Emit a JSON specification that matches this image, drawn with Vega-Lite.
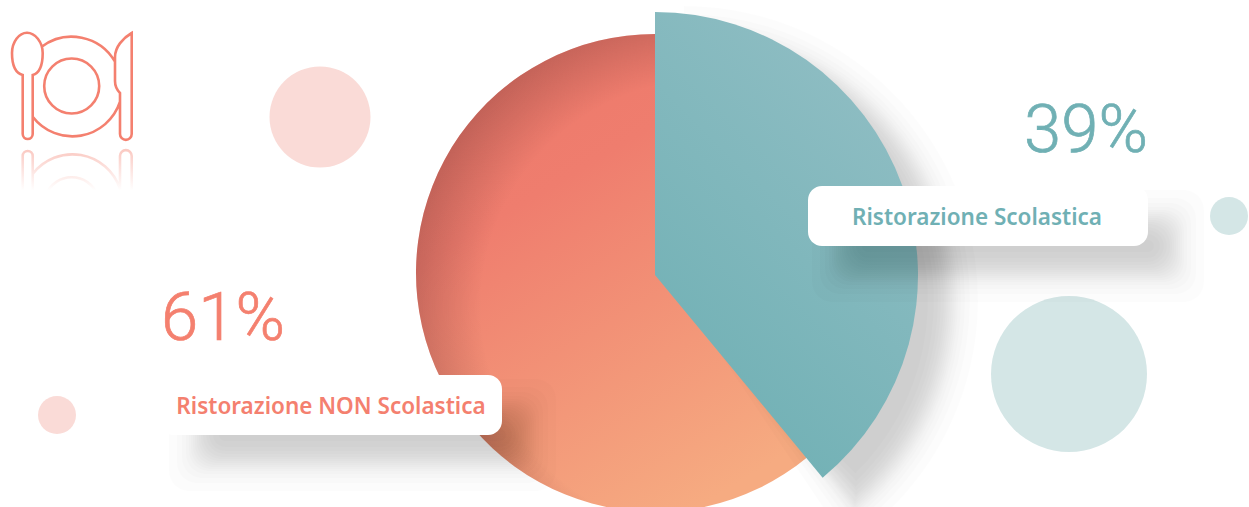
{
"$schema":"https://vega.github.io/schema/vega-lite/v6.json",
"width":1249,"height":507,"padding":0,"autosize":"none","background":"#ffffff",
"config":{"view":{"stroke":null}},
"datasets":{
"shares":[{"name":"Ristorazione Scolastica","share":39,"x":655,"y":275,"r":263},{"name":"Ristorazione NON Scolastica","share":61,"x":655,"y":273,"r":239}],
"bubbles":[{"x":320,"y":117,"d":101,"c":"red"},{"x":57,"y":415,"d":38,"c":"red"},{"x":1229,"y":216,"d":38,"c":"teal"},{"x":1069,"y":374,"d":156,"c":"teal"}],
"pieShadow":[{"x":684,"y":300,"r":244,"s0":0,"s1":37.6},{"x":684,"y":300,"r":250,"s0":0,"s1":37.9},{"x":684,"y":300,"r":254,"s0":0,"s1":38.2},{"x":684,"y":300,"r":257,"s0":0,"s1":38.3},{"x":684,"y":300,"r":260,"s0":0,"s1":38.5},{"x":684,"y":300,"r":262,"s0":0,"s1":38.6},{"x":684,"y":300,"r":264,"s0":0,"s1":38.8},{"x":684,"y":300,"r":266,"s0":0,"s1":38.9},{"x":684,"y":300,"r":268,"s0":0,"s1":39},{"x":684,"y":300,"r":270,"s0":0,"s1":39.1},{"x":684,"y":300,"r":272,"s0":0,"s1":39.2},{"x":684,"y":300,"r":274,"s0":0,"s1":39.4},{"x":684,"y":300,"r":277,"s0":0,"s1":39.5},{"x":684,"y":300,"r":281,"s0":0,"s1":39.8},{"x":684,"y":300,"r":286,"s0":0,"s1":40.1},{"x":684,"y":300,"r":294,"s0":0,"s1":40.6}],
"labelShadow":[
{"x":862,"x2":1154,"y":240,"y2":252},{"x":856,"x2":1160,"y":234,"y2":258},{"x":852,"x2":1164,"y":230,"y2":262},{"x":849,"x2":1167,"y":227,"y2":265},{"x":846,"x2":1170,"y":224,"y2":268},{"x":844,"x2":1172,"y":222,"y2":270},{"x":842,"x2":1174,"y":220,"y2":272},{"x":840,"x2":1176,"y":218,"y2":274},{"x":838,"x2":1178,"y":216,"y2":276},{"x":836,"x2":1180,"y":214,"y2":278},{"x":834,"x2":1182,"y":212,"y2":280},{"x":832,"x2":1184,"y":210,"y2":282},{"x":829,"x2":1187,"y":207,"y2":285},{"x":825,"x2":1191,"y":203,"y2":289},{"x":820,"x2":1196,"y":198,"y2":294},{"x":812,"x2":1204,"y":190,"y2":302},
{"x":219,"x2":506,"y":429,"y2":441},{"x":213,"x2":512,"y":423,"y2":447},{"x":209,"x2":516,"y":419,"y2":451},{"x":206,"x2":519,"y":416,"y2":454},{"x":203,"x2":522,"y":413,"y2":457},{"x":201,"x2":524,"y":411,"y2":459},{"x":199,"x2":526,"y":409,"y2":461},{"x":197,"x2":528,"y":407,"y2":463},{"x":195,"x2":530,"y":405,"y2":465},{"x":193,"x2":532,"y":403,"y2":467},{"x":191,"x2":534,"y":401,"y2":469},{"x":189,"x2":536,"y":399,"y2":471},{"x":186,"x2":539,"y":396,"y2":474},{"x":182,"x2":543,"y":392,"y2":478},{"x":177,"x2":548,"y":387,"y2":483},{"x":169,"x2":556,"y":379,"y2":491}],
"boxes":[{"x":808,"x2":1148,"y":186,"y2":246},{"x":160,"x2":502,"y":375,"y2":435}],
"labels":[{"text":"Ristorazione Scolastica","x":977,"y":218,"c":"teal"},{"text":"Ristorazione NON Scolastica","x":331,"y":407,"c":"red"}],
"percents":[{"text":"39%","x":1086,"y":132,"c":"teal"},{"text":"61%","x":223,"y":320,"c":"red"}],
"origin":[{"x":0,"y":0}]
},
"data":{"name":"shares"},
"transform":[{"stack":"share","as":["s0","s1"],"sort":[{"field":"share","order":"ascending"}]}],
"encoding":{
"x":{"field":"x","type":"quantitative","scale":{"domain":[0,1249],"nice":false,"zero":false},"axis":null},
"y":{"field":"y","type":"quantitative","scale":{"domain":[507,0],"nice":false,"zero":false},"axis":null}
},
"layer":[
{"data":{"name":"bubbles"},"transform":[{"filter":"datum.c==='red'"}],"mark":{"type":"point","filled":true,"shape":"circle","opacity":1,"color":"#fadbd7"},"encoding":{"size":{"field":"d","type":"quantitative","scale":{"type":"pow","exponent":2,"domain":[0,200],"range":[0,40000]},"legend":null}}},
{"data":{"name":"bubbles"},"transform":[{"filter":"datum.c==='teal'"}],"mark":{"type":"point","filled":true,"shape":"circle","opacity":1,"color":"#d4e6e6"},"encoding":{"size":{"field":"d","type":"quantitative","scale":{"type":"pow","exponent":2,"domain":[0,200],"range":[0,40000]},"legend":null}}},
{"data":{"name":"origin"},"mark":{"type":"point","filled":false,"opacity":1,"size":4,"stroke":"#f4806f","strokeWidth":2.6,"shape":"M22.7 75C15 73 12 66 12 53C12 42 19 32.7 27 32.7C35 32.7 42.7 42 42.7 53C42.7 66 40 73 32.7 75L32.7 134A5 5 0 0 1 22.7 134ZM41.7 46.7A50 50 0 0 1 115 61.7M120 101.7A50 50 0 0 1 32.7 116.7M99.2 86A27.5 27.5 0 1 1 44.2 86A27.5 27.5 0 1 1 99.2 86ZM131.7 33L131.7 134A5.8 5.8 0 0 1 120 134L120 93C117 90 115 86 115 81L115 57C115 47 123 38 131.7 33Z"}},
{"data":{"name":"origin"},"mark":{"type":"point","filled":false,"opacity":1,"size":4,"strokeWidth":2.6,"stroke":{"gradient":"linear","x1":0,"y1":0,"x2":0,"y2":1,"stops":[{"offset":0,"color":"rgba(244,128,111,0.42)"},{"offset":0.9,"color":"rgba(244,128,111,0)"}]},"shape":"M22.7 195L22.7 156A5 5 0 0 1 32.7 156L32.7 195M120 195L120 156A5.8 5.8 0 0 1 131.7 156L131.7 195M32.7 174A50 50 0 0 1 120 189M46 195A27.5 27.5 0 0 1 97.4 195"}},
{"transform":[{"filter":"datum.share===61"}],"mark":{"type":"arc","fill":{"gradient":"linear","x1":0.25,"y1":0.08,"x2":0.7,"y2":1,"stops":[{"offset":0,"color":"#ed7a6b"},{"offset":0.25,"color":"#ef7d6e"},{"offset":1,"color":"#f6ab81"}]}},"encoding":{"theta":{"field":"s0","type":"quantitative","stack":null,"scale":{"domain":[0,100],"range":[0,6.28318]}},"theta2":{"field":"s1"},"radius":{"field":"r","type":"quantitative","scale":null}}},
{"transform":[{"filter":"datum.share===61"}],"mark":{"type":"arc","fill":{"gradient":"radial","x1":0.7,"y1":0.57,"r1":0,"x2":0.7,"y2":0.57,"r2":0.64,"stops":[{"offset":0,"color":"rgba(110,50,50,0)"},{"offset":0.74,"color":"rgba(110,50,50,0)"},{"offset":1,"color":"rgba(110,50,50,0.36)"}]}},"encoding":{"theta":{"field":"s0","type":"quantitative","stack":null,"scale":{"domain":[0,100],"range":[0,6.28318]}},"theta2":{"field":"s1"},"radius":{"field":"r","type":"quantitative","scale":null}}},
{"data":{"name":"pieShadow"},"mark":{"type":"arc","fill":"#000000","fillOpacity":0.0105},"encoding":{"theta":{"field":"s0","type":"quantitative","stack":null,"scale":{"domain":[0,100],"range":[0,6.28318]}},"theta2":{"field":"s1"},"radius":{"field":"r","type":"quantitative","scale":null}}},
{"transform":[{"filter":"datum.share===39"}],"mark":{"type":"arc","fill":{"gradient":"linear","x1":0.85,"y1":0,"x2":0.3,"y2":1,"stops":[{"offset":0,"color":"#93bfc5"},{"offset":1,"color":"#6fb0b4"}]}},"encoding":{"theta":{"field":"s0","type":"quantitative","stack":null,"scale":{"domain":[0,100],"range":[0,6.28318]}},"theta2":{"field":"s1"},"radius":{"field":"r","type":"quantitative","scale":null}}},
{"data":{"name":"labelShadow"},"mark":{"type":"rect","fill":"#000000","fillOpacity":0.0105,"cornerRadius":20},"encoding":{"x2":{"field":"x2"},"y2":{"field":"y2"}}},
{"data":{"name":"boxes"},"mark":{"type":"rect","fill":"#ffffff","cornerRadius":14},"encoding":{"x2":{"field":"x2"},"y2":{"field":"y2"}}},
{"data":{"name":"labels"},"mark":{"type":"text","font":"Noto Sans","fontSize":22.5,"fontWeight":600,"align":"center","baseline":"middle"},"encoding":{"text":{"field":"text"},"color":{"field":"c","type":"nominal","scale":{"domain":["red","teal"],"range":["#f4806f","#70b0b4"]},"legend":null}}},
{"data":{"name":"percents"},"mark":{"type":"text","font":"Roboto","fontSize":67,"fontWeight":300,"align":"center","baseline":"middle","strokeWidth":0.7},"encoding":{"text":{"field":"text"},"color":{"field":"c","type":"nominal","scale":{"domain":["red","teal"],"range":["#f4806f","#70b0b4"]},"legend":null},"stroke":{"field":"c","type":"nominal","scale":{"domain":["red","teal"],"range":["#f4806f","#70b0b4"]},"legend":null}}}
]
}
